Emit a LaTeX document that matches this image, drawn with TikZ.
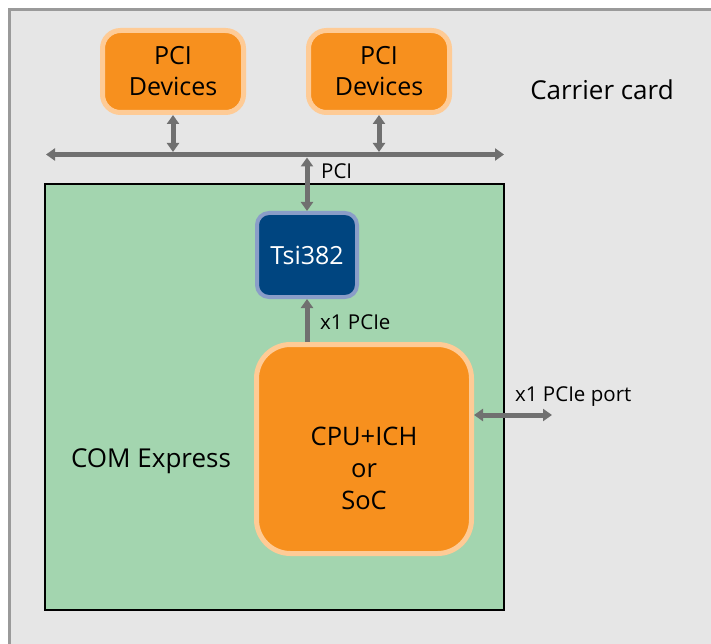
\documentclass[tikz,border=0pt]{standalone}
\usepackage{fontspec}
\setmainfont{Open Sans}
\usetikzlibrary{arrows.meta,calc}
\definecolor{bgc}{HTML}{E6E6E6}
\definecolor{framec}{HTML}{9A9A9A}
\definecolor{greenc}{HTML}{A3D5AF}
\definecolor{orangec}{HTML}{F7901E}
\definecolor{peachc}{HTML}{FECB96}
\definecolor{bluec}{HTML}{004580}
\definecolor{lbluec}{HTML}{8A9DC8}
\definecolor{arrowc}{HTML}{707070}
\newcommand{\bigf}{\fontsize{25}{31}\selectfont}
\newcommand{\cpuf}{\fontsize{25.5}{32}\selectfont}
\newcommand{\labf}{\fontsize{26}{31}\selectfont}
\newcommand{\smallf}{\fontsize{20.5}{24}\selectfont}
\begin{document}
\begin{tikzpicture}[x=1pt,y=-1pt,
  >={Triangle[width=12pt,length=9pt]},
  devbox/.style={draw=peachc, line width=5pt, fill=orangec, rounded corners=18pt,
    minimum width=141pt, minimum height=82pt, inner sep=0pt, font=\bigf, align=center},
  tsibox/.style={draw=lbluec, line width=4pt, fill=bluec, rounded corners=12pt,
    minimum width=100pt, minimum height=84pt, inner sep=0pt, font=\bigf, text=white},
  cpubox/.style={draw=peachc, line width=5pt, fill=orangec, rounded corners=34pt,
    minimum width=215pt, minimum height=209pt, inner sep=0pt},
  cputext/.style={font=\cpuf, align=center, inner sep=0pt},
  conn/.style={draw=arrowc, line width=5pt},
  lab/.style={font=\smallf, inner sep=0pt},
  biglab/.style={font=\labf, inner sep=0pt}
]
\useasboundingbox (0,0) rectangle (711,644);
% carrier card background
\fill[bgc] (8,8) rectangle (711,644);
\draw[framec, line width=3pt] (9.5,644) -- (9.5,9.5) -- (711,9.5);
% COM Express board
\draw[black, line width=2.5pt, fill=greenc] (45,184) rectangle (504,610);

% nodes
\node[devbox] (d1) at (173,71.5) {PCI\\Devices};
\node[devbox] (d2) at (379,71.5) {PCI\\Devices};
\node[tsibox] (tsi) at (307,255) {Tsi382};
\node[cpubox] (cpu) at (364,449) {};
\node[cputext] (cputxt) at ($(cpu.center)+(0,19)$) {CPU+ICH\\or\\SoC};

\coordinate (busL) at (46,154.5);
\coordinate (busR) at (504,154.5);
\coordinate (portR) at (552,415);

% connectors
\draw[conn,<->] (busL) -- (busR);
\draw[conn,<->, shorten >=2.5pt] (d1.south) -- (d1.south |- busL);
\draw[conn,<->, shorten >=2.5pt] (d2.south) -- (d2.south |- busL);
\draw[conn,<->, shorten >=3pt] (tsi.north) -- (tsi.north |- busL);
\draw[conn,->] (cpu.north -| tsi.south) -- (tsi.south);
\draw[conn,<->] (cpu.east |- portR) -- (portR);

% labels
\node[lab, anchor=base west] (lpci) at (321,179) {PCI};
\node[lab, anchor=base west] (lpcie) at (320,329) {x1 PCIe};
\node[lab, anchor=base west] (lport) at (515,401) {x1 PCIe port};
\node[biglab, anchor=base] (lcom) at (151,467) {COM Express};
\node[biglab, anchor=base] (lcar) at (602,100) {Carrier card};
\end{tikzpicture}
\end{document}
